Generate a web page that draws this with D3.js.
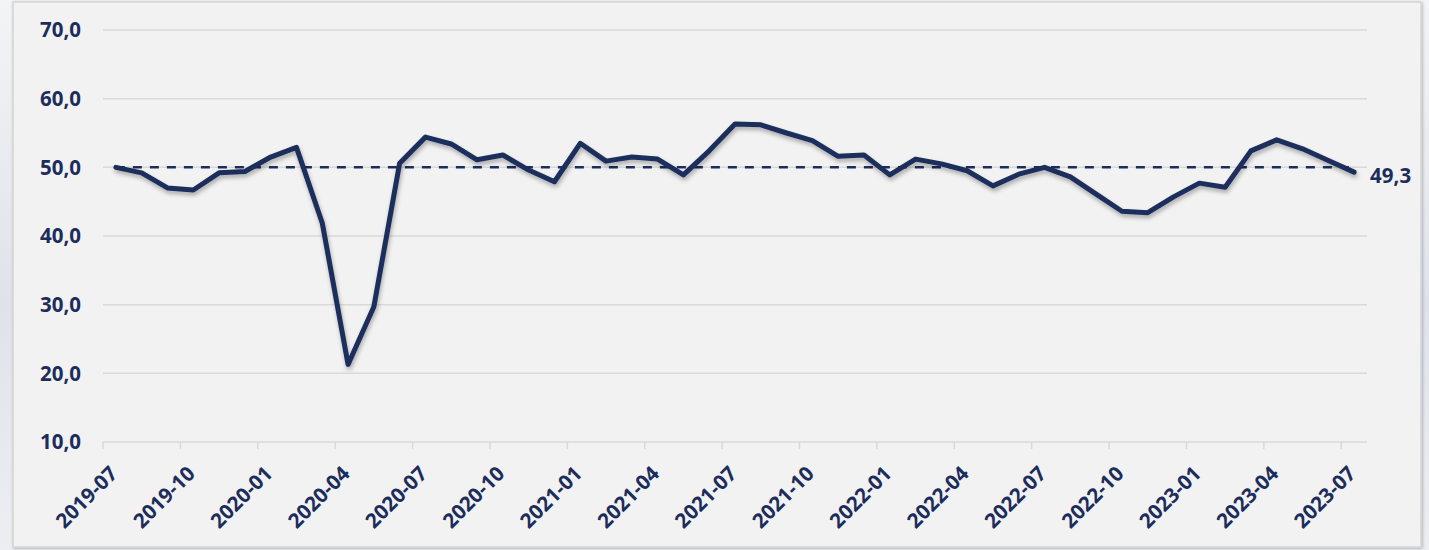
<!DOCTYPE html>
<html>
<head>
<meta charset="utf-8">
<script src="https://cdn.jsdelivr.net/npm/d3@7"></script>
<style>
  html, body { margin: 0; padding: 0; background: #eceef2; }
  #chart { width: 1429px; height: 550px; }
  text { font-family: "Open Sans", "DejaVu Sans", sans-serif; }
</style>
</head>
<body>
<div id="chart"></div>
<script>
// Monthly index values, 2019-07 .. 2023-07
const months = [
    '2019-07', '2019-08', '2019-09', '2019-10', '2019-11', '2019-12',
    '2020-01', '2020-02', '2020-03', '2020-04', '2020-05', '2020-06',
    '2020-07', '2020-08', '2020-09', '2020-10', '2020-11', '2020-12',
    '2021-01', '2021-02', '2021-03', '2021-04', '2021-05', '2021-06',
    '2021-07', '2021-08', '2021-09', '2021-10', '2021-11', '2021-12',
    '2022-01', '2022-02', '2022-03', '2022-04', '2022-05', '2022-06',
    '2022-07', '2022-08', '2022-09', '2022-10', '2022-11', '2022-12',
    '2023-01', '2023-02', '2023-03', '2023-04', '2023-05', '2023-06',
    '2023-07'
];
const values = [
    50.0, 49.2, 47.0, 46.7, 49.2, 49.4,
    51.5, 52.9, 41.9, 21.3, 29.7, 50.6,
    54.4, 53.4, 51.1, 51.8, 49.6, 47.9,
    53.5, 50.9, 51.5, 51.2, 48.9, 52.4,
    56.3, 56.2, 55.0, 53.9, 51.6, 51.8,
    48.9, 51.2, 50.5, 49.5, 47.3, 49.0,
    50.0, 48.6, 46.1, 43.6, 43.4, 45.7,
    47.7, 47.1, 52.4, 54.0, 52.7, 51.0,
    49.3
];
const thresholdValue = 50;
const yTicks = [10, 20, 30, 40, 50, 60, 70];
// every third month gets a label
const labelledMonths = months.filter((m, i) => i % 3 === 0);

const navy = '#1c2d5c';
const gridColor = '#d9d9d9';
const fontSize = '20.5px';

const container = document.getElementById('chart');
const totalWidth = 1429;
const totalHeight = 550;

const svg = d3.select(container)
    .append('svg')
    .attr('width', totalWidth)
    .attr('height', totalHeight);

// Shadows
const defs = svg.append('defs');
defs.append('filter')
    .attr('id', 'lineShadow')
    .attr('x', '-5%').attr('y', '-20%')
    .attr('width', '110%').attr('height', '140%')
    .append('feDropShadow')
    .attr('dx', 1)
    .attr('dy', 3)
    .attr('stdDeviation', 2)
    .attr('flood-color', '#000')
    .attr('flood-opacity', 0.3);
defs.append('filter')
    .attr('id', 'panelShadow')
    .append('feDropShadow')
    .attr('dx', 1)
    .attr('dy', 1)
    .attr('stdDeviation', 1.5)
    .attr('flood-color', '#000')
    .attr('flood-opacity', 0.25);

const bgGrad = defs.append('linearGradient')
    .attr('id', 'bgGrad')
    .attr('x1', 0).attr('y1', 0).attr('x2', 0).attr('y2', 1);
bgGrad.append('stop').attr('offset', '0%').attr('stop-color', '#f3f4f6');
bgGrad.append('stop').attr('offset', '55%').attr('stop-color', '#dfe3e9');
bgGrad.append('stop').attr('offset', '100%').attr('stop-color', '#eceef2');

// Page background and panel
svg.append('rect')
    .attr('width', totalWidth)
    .attr('height', totalHeight)
    .attr('fill', 'url(#bgGrad)');

svg.append('rect')
    .attr('x', 13)
    .attr('y', 2)
    .attr('width', 1408)
    .attr('height', 545)
    .attr('fill', '#f2f2f2')
    .attr('stroke', '#d4d4d4')
    .attr('stroke-width', 1.5)
    .attr('filter', 'url(#panelShadow)');

// Plot area
const plot = { left: 103, right: 1367, top: 30, bottom: 442 };

const xScale = d3.scaleBand()
    .domain(months)
    .range([plot.left, plot.right])
    .paddingInner(0)
    .paddingOuter(0);
const xCenter = m => xScale(m) + xScale.bandwidth() / 2;

const yScale = d3.scaleLinear()
    .domain([10, 70])
    .range([plot.bottom, plot.top]);

const fmt = v => d3.format('.1f')(v).replace('.', ',');

// Gridlines
svg.append('g')
    .selectAll('line')
    .data(yTicks)
    .enter()
    .append('line')
    .attr('x1', plot.left)
    .attr('x2', plot.right)
    .attr('y1', d => yScale(d))
    .attr('y2', d => yScale(d))
    .attr('stroke', gridColor)
    .attr('stroke-width', 1.5);

// Y axis labels
svg.append('g')
    .selectAll('text')
    .data(yTicks)
    .enter()
    .append('text')
    .attr('x', 81)
    .attr('y', d => yScale(d))
    .attr('dy', '0.36em')
    .attr('text-anchor', 'end')
    .attr('font-size', fontSize)
    .attr('font-weight', 700)
    .attr('fill', navy)
    .text(d => fmt(d));

// X axis tick marks at the left edge of labelled months
svg.append('g')
    .selectAll('line')
    .data(labelledMonths)
    .enter()
    .append('line')
    .attr('x1', d => xScale(d))
    .attr('x2', d => xScale(d))
    .attr('y1', plot.bottom)
    .attr('y2', plot.bottom + 7)
    .attr('stroke', gridColor)
    .attr('stroke-width', 1.5);

// X axis labels, rotated
svg.append('g')
    .selectAll('text')
    .data(labelledMonths)
    .enter()
    .append('text')
    .attr('transform', d => `translate(${xCenter(d) + 3},${plot.bottom + 33}) rotate(-45)`)
    .attr('text-anchor', 'end')
    .attr('font-size', fontSize)
    .attr('font-weight', 700)
    .attr('fill', navy)
    .text(d => d);

// Dashed 50 threshold line
svg.append('line')
    .attr('x1', xCenter(months[0]))
    .attr('x2', xCenter(months[months.length - 1]))
    .attr('y1', yScale(thresholdValue))
    .attr('y2', yScale(thresholdValue))
    .attr('stroke', navy)
    .attr('stroke-width', 2.5)
    .attr('stroke-dasharray', '9,8');

// Main series
const line = d3.line()
    .x((d, i) => xCenter(months[i]))
    .y(d => yScale(d));

svg.append('path')
    .datum(values)
    .attr('d', line)
    .attr('fill', 'none')
    .attr('stroke', navy)
    .attr('stroke-width', 5)
    .attr('stroke-linejoin', 'round')
    .attr('stroke-linecap', 'round')
    .attr('filter', 'url(#lineShadow)');

// Last value label
const lastIdx = values.length - 1;
svg.append('text')
    .attr('x', xCenter(months[lastIdx]) + 16)
    .attr('y', yScale(values[lastIdx]) + 3)
    .attr('dy', '0.36em')
    .attr('font-size', fontSize)
    .attr('font-weight', 700)
    .attr('fill', navy)
    .text(fmt(values[lastIdx]));
</script>
</body>
</html>
